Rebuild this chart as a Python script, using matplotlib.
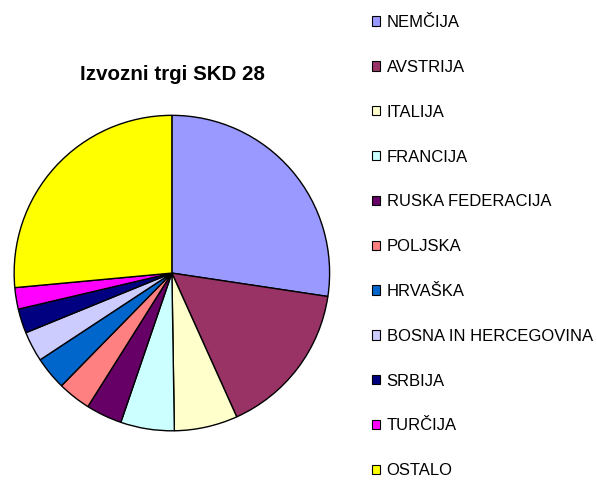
import matplotlib.pyplot as plt
from matplotlib.patches import Patch

plt.rcParams['font.family'] = ['Liberation Sans', 'DejaVu Sans']

# export markets, share in %
countries = ["NEMČIJA", "AVSTRIJA", "ITALIJA", "FRANCIJA", "RUSKA FEDERACIJA",
             "POLJSKA", "HRVAŠKA", "BOSNA IN HERCEGOVINA", "SRBIJA", "TURČIJA", "OSTALO"]
shares = [27.4, 15.9, 6.5, 5.5, 3.7, 3.4, 3.4, 3.1, 2.5, 2.2, 26.5]
colors = ["#9999FF", "#993366", "#FFFFCC", "#CCFFFF", "#660066",
          "#FF8080", "#0066CC", "#CCCCFF", "#000080", "#FF00FF", "#FFFF00"]

fig = plt.figure(figsize=(5.97, 4.84), dpi=100)
ax = fig.add_axes([0.0184, 0.1033, 0.539, 0.665])
ax.pie(shares, colors=colors, startangle=90, counterclock=False, radius=1,
       wedgeprops=dict(edgecolor="black", linewidth=1.0))
ax.set_xlim(-1.02, 1.02)
ax.set_ylim(-1.02, 1.02)
ax.set_aspect("equal")

fig.text(172 / 597, 1 - 74 / 484, "Izvozni trgi SKD 28", ha="center", va="center",
         fontsize=14.8, fontweight="bold")

handles = [Patch(facecolor=c, edgecolor="black", linewidth=0.8) for c in colors]
fig.legend(handles, countries, loc="upper left", bbox_to_anchor=(372 / 597, 1 - 15 / 484),
           frameon=False, fontsize=12, handlelength=0.48, handleheight=0.48,
           handletextpad=0.4, labelspacing=1.79, borderaxespad=0, borderpad=0)

fig.savefig("out.png", dpi=100)
